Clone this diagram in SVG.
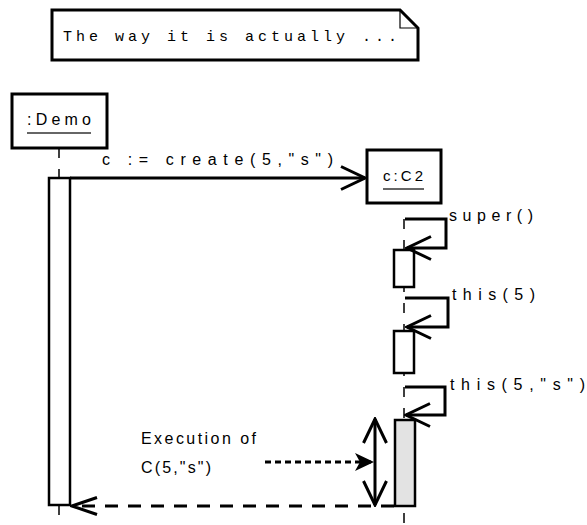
<svg xmlns="http://www.w3.org/2000/svg" width="587" height="525" viewBox="0 0 587 525">
  <style>
    .box { fill: #fff; stroke: #000; stroke-width: 3; }
    .act { fill: #fff; stroke: #000; stroke-width: 2.5; }
    .lifeline { stroke: #000; stroke-width: 1.5; stroke-dasharray: 10 11; fill: none; }
    .msg { stroke: #000; stroke-width: 3; fill: none; }
    .label { font-family: "Liberation Sans", Arial, sans-serif; font-size: 16px; fill: #000; }
    .mono { font-family: "Liberation Mono", "Courier New", monospace; font-size: 15px; fill: #000; }
    .uline { stroke: #333; stroke-width: 1.5; }
  </style>
  <defs>
    <marker id="open" viewBox="-28 -15 30 30" markerWidth="30" markerHeight="30" refX="0" refY="0" orient="auto-start-reverse" markerUnits="userSpaceOnUse">
      <path d="M-24,-11.5 L0,0 L-24,11.5" fill="none" stroke="#000" stroke-width="3"/>
    </marker>
    <marker id="openNarrow" viewBox="-28 -15 30 30" markerWidth="30" markerHeight="30" refX="0" refY="0" orient="auto" markerUnits="userSpaceOnUse">
      <path d="M-25,-8.5 L0,0 L-25,8.5" fill="none" stroke="#000" stroke-width="3"/>
    </marker>
    <marker id="filled" viewBox="-22 -12 24 24" markerWidth="24" markerHeight="24" refX="0" refY="0" orient="auto" markerUnits="userSpaceOnUse">
      <path d="M-19,-9 L0,0 L-19,9 L-14,0 Z" fill="#000"/>
    </marker>
  </defs>

  <!-- note -->
  <g id="note">
    <path d="M52,10 H400 L418,28 V60 H52 Z" class="box"/>
    <path d="M400,10 V28 H418" fill="none" stroke="#000" stroke-width="1.2"/>
    <text class="mono" x="63" y="41" textLength="334" lengthAdjust="spacing">The way it is actually ...</text>
  </g>

  <!-- lifelines -->
  <g id="lifelines">
    <line class="lifeline" x1="59" y1="148" x2="59" y2="525"/>
    <line class="lifeline" x1="404" y1="219" x2="404" y2="525"/>
  </g>

  <!-- :Demo -->
  <g id="demo">
    <rect class="box" x="12" y="94" width="95" height="54"/>
    <text class="label" x="27" y="125" textLength="64" lengthAdjust="spacing">:Demo</text>
    <line class="uline" x1="27" y1="133" x2="91" y2="133"/>
    <rect class="act" x="49" y="178" width="21" height="327"/>
  </g>

  <!-- c:C2 -->
  <g id="c2">
    <rect class="box" x="367" y="150" width="74" height="53"/>
    <text class="label" x="383" y="181" textLength="40" lengthAdjust="spacing" style="font-size:15px">c:C2</text>
    <line class="uline" x1="383" y1="189" x2="424" y2="189"/>
    <rect class="act" x="394" y="250" width="20" height="37"/>
    <rect class="act" x="394" y="331" width="20" height="42"/>
    <rect class="act" x="395" y="420" width="20" height="86" style="fill:#e3e3e3"/>
  </g>

  <!-- messages -->
  <g id="connectors">
    <line class="msg" x1="70" y1="178" x2="365" y2="178" marker-end="url(#open)"/>
    <polyline class="msg" points="405,219 446,219 446,248 407,248" marker-end="url(#open)"/>
    <polyline class="msg" points="405,298 448,298 448,327 407,327" marker-end="url(#open)"/>
    <polyline class="msg" points="405,387 445,387 445,415 406,415" marker-end="url(#open)"/>
    <line class="msg" x1="394" y1="506" x2="72" y2="506" stroke-dasharray="13 10" marker-end="url(#openNarrow)"/>
    <line class="msg" x1="375" y1="419" x2="375" y2="505" marker-start="url(#open)" marker-end="url(#open)"/>
    <line class="msg" x1="265" y1="462" x2="374" y2="462" stroke-dasharray="6 4" marker-end="url(#filled)"/>
  </g>

  <!-- labels -->
  <g id="labels">
    <text class="label" x="102" y="165" textLength="231" lengthAdjust="spacing">c := create(5,"s")</text>
    <text class="label" x="449" y="221" textLength="84" lengthAdjust="spacing">super()</text>
    <text class="label" x="452" y="300" textLength="83" lengthAdjust="spacing">this(5)</text>
    <text class="label" x="450" y="390" textLength="135" lengthAdjust="spacing">this(5,"s")</text>
    <text class="label" x="141" y="444" textLength="115" lengthAdjust="spacing">Execution of</text>
    <text class="label" x="141" y="473" textLength="70" lengthAdjust="spacing">C(5,"s")</text>
  </g>
</svg>
